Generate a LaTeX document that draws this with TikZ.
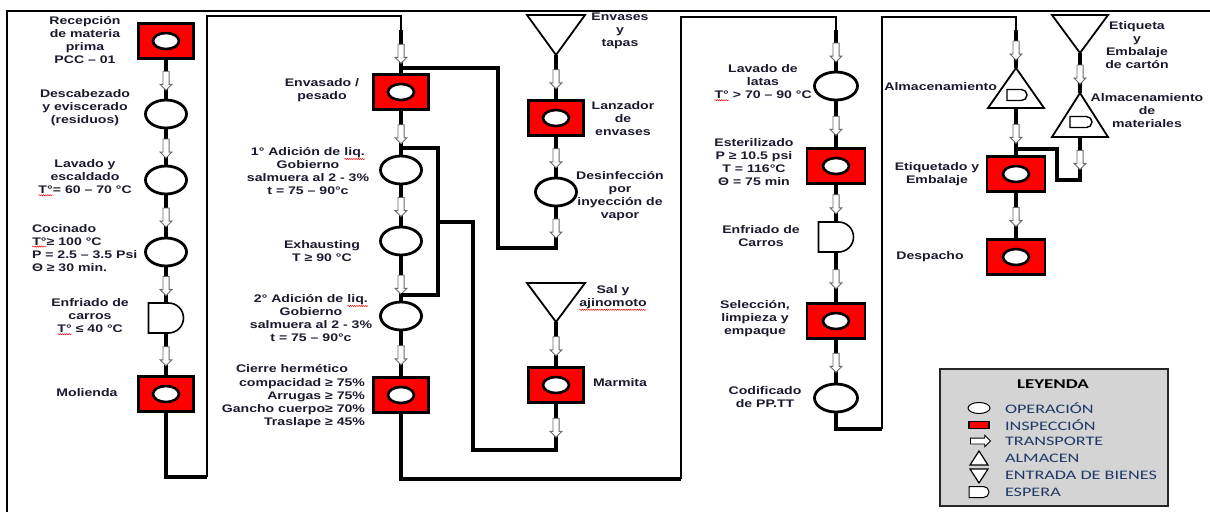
\documentclass[tikz,border=0pt]{standalone}
\usepackage{fontspec}
\setmainfont{Liberation Sans}[FakeStretch=1.28]
\newfontfamily\legfont{Carlito}[FakeStretch=1.4]
\usetikzlibrary{shapes.geometric,shapes.arrows,shapes.misc,decorations.pathmorphing}
\definecolor{txt}{HTML}{1A1A2E}
\definecolor{legtxt}{HTML}{203864}
\definecolor{leggray}{HTML}{D4D4D4}
\definecolor{arrgray}{HTML}{6A6A6A}
\newcommand\spl[1]{\tikz[baseline=(w.base)]{\node[inner sep=0pt,outer sep=0pt] (w) {#1};\draw[red,line width=0.5pt,decorate,decoration={snake,amplitude=0.55pt,segment length=2.2pt}] ([yshift=-1.2pt]w.south west) -- ([yshift=-1.2pt]w.south east);}}
\begin{document}
\begin{tikzpicture}[x=1pt,y=-1pt,
  every node/.style={inner sep=0pt,outer sep=0pt},
  lab/.style={font=\fontsize{11}{13}\selectfont\bfseries,text=txt,align=center},
  flow/.style={line width=3.2pt,black},
  link/.style={line width=1.4pt,black},
  insp/.style={rectangle,draw=black,line width=2.8pt,fill=red,minimum width=55pt,minimum height=35pt,
    path picture={\draw[line width=2.6pt,fill=white] (path picture bounding box.center) ellipse [x radius=13pt,y radius=8pt];}},
  oper/.style={ellipse,draw=black,line width=2.8pt,fill=white,minimum width=41pt,minimum height=28pt},
  espera/.style={rounded rectangle,rounded rectangle west arc=none,draw=black,line width=1.6pt,fill=white,minimum width=35pt,minimum height=30pt},
  tarrow/.style={single arrow,draw=arrgray,fill=white,line width=0.9pt,inner sep=2.6pt,minimum height=19pt,single arrow head extend=2.8pt,shape border rotate=270},
  tri/.style={draw=black,line width=1.8pt,fill=white,line join=miter},
  leglab/.style={font=\legfont\fontsize{13}{15}\selectfont,text=legtxt,anchor=west},
]
\useasboundingbox (0,0) rectangle (1210,512);
% outer frame
\coordinate (fTL) at (7,11);
\coordinate (fTR) at (1210,11);
\coordinate (fBL) at (7,512);
\draw[line width=2.6pt] (fTR) -- (fTL) -- (fBL);

% ---------------- column 1
\node[insp] (rec) at (166,41) {};
\node[oper] (desc) at (166,114) {};
\node[oper] (lav) at (166,180) {};
\node[oper] (coc) at (166,252) {};
\node[espera] (enf) at (166,318) {};
\node[insp] (mol) at (166,394) {};
\draw[flow] (rec) -- node[tarrow]{} (desc);
\draw[flow] (desc) -- node[tarrow]{} (lav);
\draw[flow] (lav) -- node[tarrow]{} (coc);
\draw[flow] (coc) -- node[tarrow]{} (enf);
\draw[flow] (enf) -- node[tarrow]{} (mol);

\node[lab] (lrec) at (85,40) {Recepción\\de materia\\prima\\PCC – 01};
\node[lab] (ldesc) at (85,108) {Descabezado\\y eviscerado\\(residuos)};
\node[lab] (llav) at (85,178) {Lavado y\\escaldado\\\spl{T°}= 60 – 70 °C};
\node[lab,align=left,anchor=west] (lcoc) at (32,248) {Cocinado\\\spl{T°}≥ 100 °C\\P = 2.5 – 3.5 Psi\\Θ ≥ 30 min.};
\node[lab] (lenf) at (90,317) {Enfriado de\\carros\\\spl{T°} ≤ 40 °C};
\node[lab] (lmol) at (87,393) {Molienda};

% ---------------- column 2
\node[insp] (envas) at (401,92) {};
\node[oper] (ad1) at (401,170) {};
\node[oper] (exh) at (401,241) {};
\node[oper] (ad2) at (401,316) {};
\node[insp] (cie) at (401,395) {};

\coordinate (m1) at (166,477);
\coordinate (m2) at (207,477);
\coordinate (m3) at (207,16);
\coordinate (m4) at (401,16);
\coordinate (m5) at (401,30);
\draw[flow] (mol) -- (m1) -- (m2);
\draw[link] (m2) -- (m3) -- (m4) -- (m5);
\draw[flow] (m5) -- node[tarrow]{} (envas);

\draw[flow] (envas) -- node[tarrow]{} (ad1);
\draw[flow] (ad1) -- node[tarrow]{} (exh);
\draw[flow] (exh) -- node[tarrow,pos=0.6]{} (ad2);
\draw[flow] (ad2) -- node[tarrow]{} (cie);
\coordinate (j1) at (401,148);
\coordinate (j1r) at (438,148);
\coordinate (j2r) at (438,295);
\coordinate (j2) at (401,295);
\draw[flow] (j1) -- (j1r) -- (j2r) -- (j2);

\node[lab] (lenv) at (322,90) {Envasado /\\pesado};
\node[lab] (lad1) at (308,171) {1° Adición de \spl{liq.}\\Gobierno\\salmuera al 2 - 3\%\\t = 75 – 90°c};
\node[lab] (lexh) at (322,251) {Exhausting\\T ≥ 90 °C};
\node[lab] (lad2) at (311,318) {2° Adición de \spl{liq.}\\Gobierno\\salmuera al 2 - 3\%\\t = 75 – 90°c};
\node[lab] (lcie1) at (292,369) {Cierre hermético};
\node[lab,align=right,anchor=east] (lcie2) at (365,403) {compacidad ≥ 75\%\\Arrugas ≥ 75\%\\Gancho cuerpo≥ 70\%\\Traslape ≥ 45\%};

% ---------------- column 3
\coordinate (envapex) at (556,55);
\draw[tri] (527,15) -- (585,15) -- (envapex) -- cycle;
\node[insp] (lanz) at (556,118) {};
\node[oper] (desinf) at (556,192) {};
\draw[flow] (envapex) -- node[tarrow]{} (lanz);
\draw[flow] (lanz) -- node[tarrow]{} (desinf);
\coordinate (d1) at (556,248);
\coordinate (d2) at (498,248);
\coordinate (d3) at (498,68);
\coordinate (d4) at (401,68);
\draw[flow] (desinf) -- node[tarrow]{} (d1) -- (d2) -- (d3) -- (d4);

\coordinate (salapex) at (556,322);
\draw[tri] (527,283) -- (585,283) -- (salapex) -- cycle;
\node[insp] (marm) at (556,385) {};
\draw[flow] (salapex) -- node[tarrow]{} (marm);
\coordinate (k1) at (556,450);
\coordinate (k2) at (473,450);
\coordinate (k3) at (473,222);
\coordinate (k4) at (438,222);
\draw[flow] (marm) -- node[tarrow]{} (k1) -- (k2) -- (k3) -- (k4);

\node[lab] (lenvt) at (620,31) {Envases\\y\\tapas};
\node[lab] (llanz) at (623,119) {Lanzador\\de\\envases};
\node[lab] (ldes) at (620,196) {Desinfección\\por\\inyección de\\vapor};
\node[lab] (lsal) at (613,298) {Sal y\\\spl{ajinomoto}};
\node[lab] (lmar) at (620,383) {Marmita};

% ---------------- column 4
\node[oper,minimum width=43pt] (lavl) at (836,86) {};
\node[insp,minimum width=58pt] (est) at (836,166) {};
\node[espera] (enf2) at (836,237) {};
\node[insp,minimum width=58pt] (sel) at (836,321) {};
\node[oper,minimum width=43pt] (cod) at (836,398) {};

\coordinate (c1) at (401,479);
\coordinate (c2) at (681,479);
\coordinate (c3) at (681,17);
\coordinate (c4) at (836,17);
\coordinate (c5) at (836,30);
\draw[flow] (cie) -- (c1) -- (c2);
\draw[link] (c2) -- (c3) -- (c4) -- (c5);
\draw[flow] (c5) -- node[tarrow]{} (lavl);
\draw[flow] (lavl) -- node[tarrow]{} (est);
\draw[flow] (est) -- node[tarrow]{} (enf2);
\draw[flow] (enf2) -- node[tarrow]{} (sel);
\draw[flow] (sel) -- node[tarrow]{} (cod);

\node[lab] (llavl) at (763,83) {Lavado de\\latas\\\spl{T°} > 70 – 90 °C};
\node[lab] (lest) at (754,162) {Esterilizado\\P ≥ 10.5 psi\\T = 116°C\\Θ = 75 min};
\node[lab] (lenf2) at (761,236) {Enfriado de\\Carros};
\node[lab] (lsel) at (755,319) {Selección,\\limpieza y\\empaque};
\node[lab] (lcod) at (765,397) {Codificado\\de PP.TT};

% ---------------- column 5
\coordinate (e1) at (836,429);
\coordinate (e2) at (882,429);
\coordinate (e3) at (882,17);
\coordinate (e4) at (1016,17);
\coordinate (e5) at (1016,30);
\draw[flow] (cod) -- (e1) -- (e2);
\draw[link] (e2) -- (e3) -- (e4) -- (e5);

\coordinate (almapex) at (1016,68);
\coordinate (almbase) at (1016,108);
\draw[flow] (e5) -- node[tarrow]{} (almapex);
\draw[tri] (almapex) -- (1044,108) -- (988,108) -- cycle;
\node[espera,minimum width=20pt,minimum height=11pt,line width=1.4pt] (almD) at (1017,95) {};
\node[insp,minimum width=58pt] (etiq) at (1016,174) {};
\node[insp,minimum width=58pt] (desp) at (1016,257) {};
\draw[flow] (almbase) -- node[tarrow]{} (etiq);
\draw[flow] (etiq) -- node[tarrow]{} (desp);

\node[lab,anchor=east] (lalm) at (997,87) {Almacenamiento};
\node[lab] (letq) at (937,174) {Etiquetado y\\Embalaje};
\node[lab] (ldesp) at (930,257) {Despacho};

% ---------------- column 6
\coordinate (etqapex) at (1080,53);
\draw[tri] (1052,15) -- (1108,15) -- (etqapex) -- cycle;
\coordinate (matapex) at (1080,93);
\coordinate (matbase) at (1080,137);
\draw[flow] (etqapex) -- node[tarrow]{} (matapex);
\draw[tri] (matapex) -- (1108,137) -- (1052,137) -- cycle;
\node[espera,minimum width=22pt,minimum height=11pt,line width=1.4pt] (matD) at (1081,122) {};
\coordinate (g1) at (1080,180);
\coordinate (g2) at (1057,180);
\coordinate (g3) at (1057,149);
\coordinate (g4) at (1016,149);
\draw[flow] (matbase) -- node[tarrow]{} (g1) -- (g2) -- (g3) -- (g4);

\node[lab] (letqc) at (1137,45) {Etiqueta\\y\\Embalaje\\de cartón};
\node[lab] (lmat) at (1147,111) {Almacenamiento\\de\\materiales};

% ---------------- legend
\node[draw=black!85,line width=2pt,fill=leggray,minimum width=228pt,minimum height=137pt,anchor=north west] (leg) at (940,369) {};
\node[font=\legfont\bfseries\fontsize{13.5}{15}\selectfont,text=black] (legt) at (1053,384) {LEYENDA};
\node[ellipse,draw=black,line width=1pt,fill=white,minimum width=22pt,minimum height=11pt] (lo) at (979,408) {};
\node[rectangle,draw=black,line width=1.2pt,fill=red,minimum width=20pt,minimum height=7pt] (li) at (979,425) {};
\node[single arrow,draw=black,line width=0.9pt,fill=white,inner sep=2.5pt,minimum height=20pt,single arrow head extend=2.8pt] (lt) at (979,441) {};
\draw[line width=1.2pt,fill=white] (979,451) -- (988,465) -- (970,465) -- cycle;
\draw[line width=1.2pt,fill=white] (970,469) -- (988,469) -- (979,483) -- cycle;
\node[espera,minimum width=20pt,minimum height=11pt,line width=1pt] (le) at (979,492) {};
\node[leglab] (t1) at (1005,408) {OPERACIÓN};
\node[leglab] (t2) at (1005,425) {INSPECCIÓN};
\node[leglab] (t3) at (1005,441) {TRANSPORTE};
\node[leglab] (t4) at (1005,458) {ALMACEN};
\node[leglab] (t5) at (1005,475) {ENTRADA DE BIENES};
\node[leglab] (t6) at (1005,492) {ESPERA};
\end{tikzpicture}
\end{document}
